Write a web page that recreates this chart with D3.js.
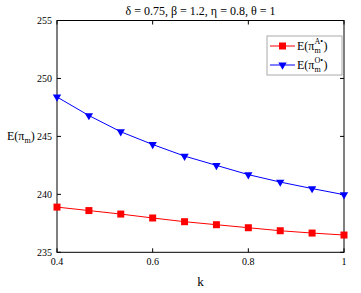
<!DOCTYPE html>
<html>
<head>
<meta charset="utf-8">
<script src="https://cdn.jsdelivr.net/npm/d3@7"></script>
<style>
  body { margin: 0; background: #fff; }
  svg text { font-family: "Liberation Serif", "Times New Roman", serif; fill: #000; }
</style>
</head>
<body>
<svg id="chart" width="361" height="293"></svg>
<script>
// ---- data ----
const kValues = [0.4, 0.4667, 0.5333, 0.6, 0.6667, 0.7333, 0.8, 0.8667, 0.9333, 1.0];
const seriesA = [238.9, 238.6, 238.3, 237.96, 237.64, 237.38, 237.12, 236.86, 236.66, 236.49];
const seriesO = [248.4, 246.8, 245.4, 244.3, 243.3, 242.5, 241.7, 241.06, 240.5, 239.97];
const xTicks = [0.4, 0.6, 0.8, 1];
const yTicks = [235, 240, 245, 250, 255];
const titleText = "δ = 0.75, β = 1.2, η = 0.8, θ = 1";

const svg = d3.select("#chart");
const L = 57, R = 344, T = 20.5, B = 252.3;
const x = d3.scaleLinear().domain([0.4, 1]).range([L, R]);
const y = d3.scaleLinear().domain([235, 255]).range([B, T]);

// frame
svg.append("rect").attr("x", L).attr("y", T).attr("width", R - L).attr("height", B - T)
  .attr("fill", "none").attr("stroke", "#000").attr("stroke-width", 1);

// ticks (inward, on all four sides)
const tl = 4;
xTicks.forEach((v) => {
  svg.append("line").attr("x1", x(v)).attr("x2", x(v)).attr("y1", B).attr("y2", B - tl).attr("stroke", "#000");
  svg.append("line").attr("x1", x(v)).attr("x2", x(v)).attr("y1", T).attr("y2", T + tl).attr("stroke", "#000");
  svg.append("text").attr("x", x(v)).attr("y", B + 13).attr("text-anchor", "middle")
    .attr("font-size", 10).text(d3.format("~g")(v));
});
yTicks.forEach((v) => {
  svg.append("line").attr("x1", L).attr("x2", L + tl).attr("y1", y(v)).attr("y2", y(v)).attr("stroke", "#000");
  svg.append("line").attr("x1", R).attr("x2", R - tl).attr("y1", y(v)).attr("y2", y(v)).attr("stroke", "#000");
  svg.append("text").attr("x", L - 5).attr("y", y(v) + 3.5).attr("text-anchor", "end")
    .attr("font-size", 10).text(v);
});

// title and axis labels
svg.append("text").attr("x", (L + R) / 2).attr("y", 15).attr("text-anchor", "middle")
  .attr("font-size", 12).text(titleText);
svg.append("text").attr("x", (L + R) / 2).attr("y", 286).attr("text-anchor", "middle")
  .attr("font-size", 13).text("k");
const yl = svg.append("text").attr("x", 7).attr("y", 140).attr("font-size", 12);
yl.append("tspan").text("E(π");
yl.append("tspan").attr("font-size", 8).attr("dy", 3).text("m");
yl.append("tspan").attr("dy", -3).text(")");

// series
const line = d3.line().x((d, i) => x(kValues[i])).y((d) => y(d));
const tri = d3.symbol().type(d3.symbolTriangle).size(30);

svg.append("path").datum(seriesA).attr("d", line).attr("fill", "none").attr("stroke", "#ff0000").attr("stroke-width", 1);
svg.selectAll("rect.mA").data(seriesA).enter().append("rect").attr("class", "mA")
  .attr("x", (d, i) => x(kValues[i]) - 3.5).attr("y", (d) => y(d) - 3.5)
  .attr("width", 7).attr("height", 7).attr("fill", "#ff0000");

svg.append("path").datum(seriesO).attr("d", line).attr("fill", "none").attr("stroke", "#0000ff").attr("stroke-width", 1);
svg.selectAll("path.mO").data(seriesO).enter().append("path").attr("class", "mO")
  .attr("d", tri).attr("fill", "#0000ff")
  .attr("transform", (d, i) => `translate(${x(kValues[i])},${y(d)}) rotate(180)`);

// legend
const lg = svg.append("g");
lg.append("rect").attr("x", 267).attr("y", 36).attr("width", 75).attr("height", 39)
  .attr("fill", "#fff").attr("stroke", "#aaa").attr("stroke-width", 1);
function legendEntry(cy, color, sup, marker) {
  lg.append("line").attr("x1", 270).attr("x2", 295).attr("y1", cy).attr("y2", cy).attr("stroke", color);
  if (marker === "sq") {
    lg.append("rect").attr("x", 279).attr("y", cy - 3.5).attr("width", 7).attr("height", 7).attr("fill", color);
  } else {
    lg.append("path").attr("d", tri).attr("fill", color).attr("transform", `translate(282.5,${cy}) rotate(180)`);
  }
  const base = cy + 4;
  const t1 = lg.append("text").attr("x", 297).attr("y", base).attr("font-size", 12).text("E(π");
  const x1 = 297 + t1.node().getComputedTextLength();
  const sub = lg.append("text").attr("x", x1).attr("y", base + 3).attr("font-size", 8).text("m");
  const supT = lg.append("text").attr("x", x1).attr("y", base - 6).attr("font-size", 8).text(sup);
  const x2 = x1 + Math.max(sub.node().getComputedTextLength(), supT.node().getComputedTextLength());
  lg.append("text").attr("x", x2 + 0.5).attr("y", base).attr("font-size", 12).text(")");
}
legendEntry(46, "#ff0000", "A•", "sq");
legendEntry(65, "#0000ff", "O•", "tri");
</script>
</body>
</html>
